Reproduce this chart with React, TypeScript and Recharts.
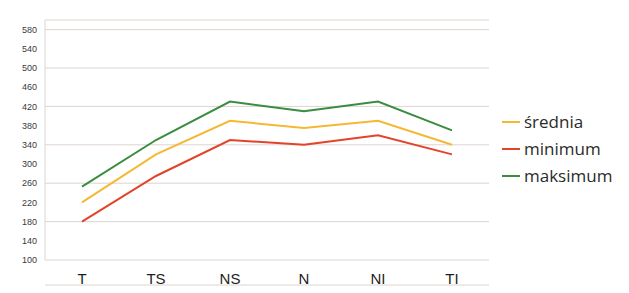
import React from 'react';
import { LineChart, Line, XAxis, YAxis, CartesianGrid } from 'recharts';

const categories = ['T', 'TS', 'NS', 'N', 'NI', 'TI'];
const srednia = [220, 320, 390, 375, 390, 340];
const minimum = [180, 275, 350, 340, 360, 320];
const maksimum = [253, 350, 430, 410, 430, 370];
const yTicks = [100, 140, 180, 220, 260, 300, 340, 380, 420, 460, 500, 540, 580];
const edgeTicks = [0, 1, 2, 3, 4, 5, 6];

const data = categories.map((name, i) => ({
  name,
  srednia: srednia[i],
  minimum: minimum[i],
  maksimum: maksimum[i],
}));

const series = [
  { key: 'srednia', label: 'średnia', color: '#f5b833' },
  { key: 'minimum', label: 'minimum', color: '#e2432b' },
  { key: 'maksimum', label: 'maksimum', color: '#3b8c3f' },
];

const ChartLegend = () => (
  <div
    style={{
      position: 'absolute',
      left: 502,
      top: 108,
      fontFamily: '"Open Sans", sans-serif',
      fontSize: 17,
      color: '#2b2b2b',
    }}
  >
    {series.map((s) => (
      <div key={s.key} style={{ display: 'flex', alignItems: 'center', height: 27 }}>
        <span style={{ display: 'inline-block', width: 18, height: 2, background: s.color, marginRight: 4 }} />
        <span>{s.label}</span>
      </div>
    ))}
  </div>
);

const App: React.FC = () => {
  return (
    <div style={{ position: 'fixed', left: 0, top: 0, width: 629, height: 293, background: '#fff' }}>
      <LineChart width={629} height={293} data={data} margin={{ top: 20, right: 140, left: 0, bottom: 0 }}>
        <CartesianGrid vertical={false} stroke="#dcd4d0" />
        <XAxis
          xAxisId="edges"
          type="number"
          domain={[0, 6]}
          ticks={edgeTicks}
          allowDataOverflow
          height={8}
          axisLine={{ stroke: '#dcd4d0' }}
          tickLine={{ stroke: '#c8c2c0' }}
          tickSize={7}
          tick={false}
        />
        <XAxis
          dataKey="name"
          height={25}
          padding={{ left: 37, right: 37 }}
          axisLine={false}
          tickLine={false}
          tickSize={0}
          tickMargin={13}
          tick={{ fill: '#1e1e1e', fontSize: 15, fontFamily: '"Liberation Sans", Arial, sans-serif' }}
        />
        <YAxis
          domain={[100, 600]}
          ticks={yTicks}
          width={45}
          axisLine={{ stroke: '#dcd4d0' }}
          tickLine={false}
          tickSize={0}
          tickMargin={8}
          tick={{ fill: '#3a3a3a', fontSize: 9, fontFamily: '"Liberation Sans", Arial, sans-serif' }}
        />
        {series.map((s) => (
          <Line
            key={s.key}
            type="linear"
            dataKey={s.key}
            name={s.label}
            stroke={s.color}
            strokeWidth={2}
            dot={false}
            activeDot={false}
            isAnimationActive={false}
          />
        ))}
      </LineChart>
      <ChartLegend />
    </div>
  );
};

export default App;
